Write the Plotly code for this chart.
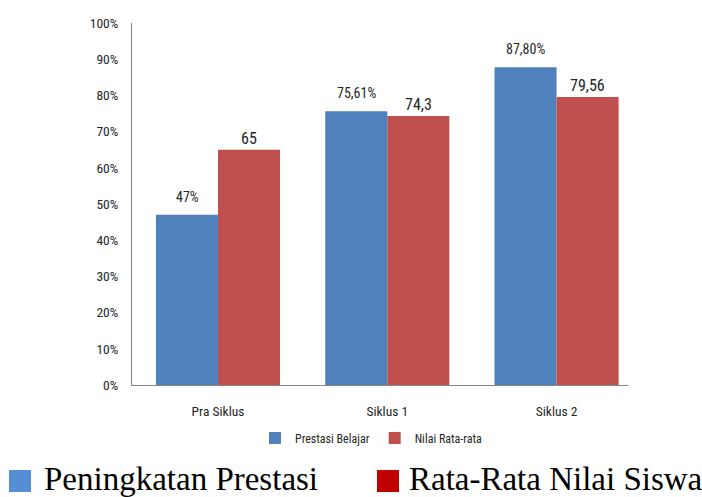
import plotly.graph_objects as go

categories = ["Pra Siklus", "Siklus 1", "Siklus 2"]
prestasi = [47, 75.61, 87.80]
nilai = [65, 74.3, 79.56]
prestasi_labels = ["47%", "75,61%", "87,80%"]
nilai_labels = ["65", "74,3", "79,56"]
y_ticks = list(range(0, 101, 10))
y_ticklabels = [f"{t}%" for t in y_ticks]

NARROW = "Liberation Sans Narrow, Arial Narrow, Roboto Condensed, sans-serif"
BLUE = "#4F81BD"
RED = "#C0504D"

fig = go.Figure()
fig.add_trace(go.Bar(name="Prestasi Belajar", x=categories, y=prestasi,
                     marker=dict(color=BLUE, line=dict(width=0))))
fig.add_trace(go.Bar(name="Nilai Rata-rata", x=categories, y=nilai,
                     marker=dict(color=RED, line=dict(width=0))))

annotations = []
for c, v, t in zip(categories, prestasi, prestasi_labels):
    annotations.append(dict(x=c, y=v, xref="x", yref="y", text=t, showarrow=False,
                            xshift=-31, yshift=8, yanchor="bottom",
                            font=dict(family=NARROW, size=14, color="#262626")))
for c, v, t in zip(categories, nilai, nilai_labels):
    annotations.append(dict(x=c, y=v, xref="x", yref="y", text=t, showarrow=False,
                            xshift=31, yshift=0, yanchor="bottom",
                            font=dict(family=NARROW, size=16, color="#262626")))

W, H = 702, 497
L, R, T, B = 132, 74, 23, 112
pw, ph = W - L - R, H - T - B

def px(x):
    return (x - L) / pw

def py(y):
    return (H - B - y) / ph

BIGFONT = "Liberation Serif, DejaVu Serif, serif"
annotations.append(dict(x=px(42), y=py(499), xref="paper", yref="paper", text="Peningkatan Prestasi",
                        showarrow=False, xanchor="left", yanchor="bottom",
                        font=dict(family=BIGFONT, size=33, color="#000000")))
annotations.append(dict(x=px(407), y=py(499), xref="paper", yref="paper", text="Rata-Rata Nilai Siswa",
                        showarrow=False, xanchor="left", yanchor="bottom",
                        font=dict(family=BIGFONT, size=33, color="#000000")))

shapes = [
    dict(type="rect", xref="paper", yref="paper", x0=px(9), x1=px(31), y0=py(492), y1=py(470),
         fillcolor="#558ED5", line=dict(width=0)),
    dict(type="rect", xref="paper", yref="paper", x0=px(377), x1=px(399), y0=py(492), y1=py(470),
         fillcolor="#C00000", line=dict(width=0)),
]

fig.update_layout(
    width=W, height=H,
    margin=dict(l=L, r=R, t=T, b=B, pad=0, autoexpand=False),
    paper_bgcolor="white", plot_bgcolor="white",
    barmode="group", bargap=0.267, bargroupgap=0,
    showlegend=True,
    legend=dict(orientation="h", x=px(371), y=py(438), xanchor="center", yanchor="middle",
                font=dict(family=NARROW, size=12, color="#262626"), traceorder="normal",
                itemwidth=30, bgcolor="rgba(0,0,0,0)"),
    annotations=annotations,
    shapes=shapes,
    font=dict(family=NARROW, color="#262626"),
)
fig.update_xaxes(type="category", categoryorder="array", categoryarray=categories,
                 range=[-0.508, 2.422], showline=True, linecolor="#868686", linewidth=1,
                 showgrid=False, ticks="", tickfont=dict(family=NARROW, size=13.5, color="#262626"),
                 ticklabelstandoff=14, automargin=False)
fig.update_yaxes(range=[0, 100], tickvals=y_ticks, ticktext=y_ticklabels,
                 showline=True, linecolor="#868686", linewidth=1, showgrid=False, zeroline=False,
                 ticks="", tickfont=dict(family=NARROW, size=13.5, color="#262626"),
                 ticklabelstandoff=10, automargin=False)

fig.write_html("out.html", config={"displayModeBar": False},
               post_script="document.body.style.margin='0';document.body.style.overflow='hidden';")
